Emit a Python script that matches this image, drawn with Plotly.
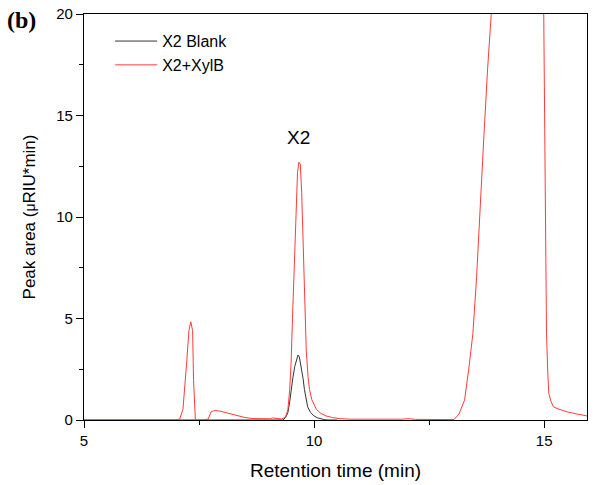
import plotly.graph_objects as go

# Red trace: X2 + XylB
t_red = [5.0, 6.5, 7.0, 7.08, 7.15, 7.23, 7.28, 7.32, 7.36, 7.38, 7.40, 7.42, 7.60, 7.70, 7.76, 7.84, 7.95, 8.1, 8.31, 8.5, 8.67,
         8.9, 9.05, 9.1, 9.18, 9.3, 9.38, 9.43, 9.47, 9.5, 9.53, 9.56, 9.6, 9.64, 9.67, 9.70, 9.73, 9.77, 9.80, 9.83, 9.87, 9.9, 9.95,
         10.05, 10.15, 10.26, 10.4, 10.55, 10.8, 11.2, 11.6, 11.9, 12.0, 12.04, 12.1, 12.2, 12.5, 12.9, 13.04, 13.15, 13.27,
         13.36, 13.45, 13.53, 13.61, 13.69, 13.77, 13.85, 14.0, 14.4, 14.8, 14.97, 14.99, 15.02, 15.05, 15.08, 15.1, 15.15,
         15.2, 15.3, 15.5, 15.7, 15.9, 16.0]
y_red = [0.0, 0.0, 0.0, 0.05, 0.52, 2.8, 4.4, 4.84, 4.4, 2.0, 0.6, 0.0, 0.0, 0.05, 0.4, 0.47, 0.44, 0.35, 0.2, 0.12, 0.07,
         0.05, 0.06, 0.1, 0.08, 0.05, 0.15, 0.5, 1.5, 2.8, 5.0, 7.2, 10.0, 12.2, 12.7, 12.6, 11.2, 7.5, 5.0, 3.4, 2.1, 1.5, 1.0,
         0.52, 0.32, 0.2, 0.12, 0.07, 0.04, 0.03, 0.03, 0.04, 0.06, 0.07, 0.06, 0.03, 0.02, 0.01, 0.02, 0.3, 0.98,
         2.5, 4.25, 7.0, 10.75, 14.0, 17.3, 20.0, 28.0, 40.0, 40.0, 24.0, 20.0, 10.0, 4.25, 2.2, 1.3, 0.9,
         0.65, 0.55, 0.4, 0.3, 0.2, 0.17]

# Black trace: X2 Blank
t_blk = [5.0, 9.0, 9.32, 9.38, 9.43, 9.47, 9.5, 9.54, 9.58, 9.62, 9.65, 9.68, 9.72, 9.76, 9.79, 9.83, 9.86, 9.92, 10.0,
         10.07, 10.14, 10.22, 10.3, 10.5]
y_blk = [0.0, 0.0, 0.0, 0.12, 0.36, 0.9, 1.5, 2.1, 2.64, 3.05, 3.2, 3.1, 2.6, 2.05, 1.5, 1.0, 0.65, 0.38, 0.2,
         0.11, 0.05, 0.02, 0.0, 0.0]

x_ticks = [5, 10, 15]
y_ticks = [0, 5, 10, 15, 20]

fig = go.Figure()
fig.add_trace(go.Scatter(x=t_blk, y=y_blk, mode="lines", name="X2 Blank",
                         line=dict(color="#333333", width=1)))
fig.add_trace(go.Scatter(x=t_red, y=y_red, mode="lines", name="X2+XylB",
                         line=dict(color="#ff3b3b", width=1)))

axis_common = dict(showline=True, linecolor="black", linewidth=1.3, mirror=True,
                   ticks="outside", ticklen=7, tickwidth=1.3, tickcolor="black",
                   showgrid=False, zeroline=False,
                   tickfont=dict(family="Arial, Liberation Sans", size=15, color="black"))

fig.update_xaxes(range=[5, 15.93], tickvals=x_ticks, ticktext=[str(v) for v in x_ticks],
                 minor=dict(dtick=2.5, tick0=5, ticklen=4, tickwidth=1.3, tickcolor="black", ticks="outside"),
                 title=dict(text="Retention time (min)", standoff=15,
                            font=dict(family="Arial, Liberation Sans", size=19, color="black")),
                 **axis_common)
fig.update_yaxes(range=[0, 20], tickvals=y_ticks, ticktext=[str(v) for v in y_ticks],
                 minor=dict(dtick=2.5, tick0=0, ticklen=4, tickwidth=1.3, tickcolor="black", ticks="outside"),
                 title=dict(text="Peak area (<span style='font-size:14px'>μ</span>RIU*min)", standoff=16,
                            font=dict(family="Arial, Liberation Sans", size=17, color="black")),
                 **axis_common)

fig.add_annotation(x=9.66, y=13.3, text="X2", showarrow=False, yanchor="bottom",
                   font=dict(family="Arial, Liberation Sans", size=19, color="black"))
fig.add_annotation(xref="paper", yref="paper", x=-0.158, y=0.985, text="<b>(b)</b>", showarrow=False,
                   xanchor="left", yanchor="middle",
                   font=dict(family="Times New Roman, Liberation Serif", size=24, color="black"))

fig.update_layout(width=593, height=485, margin=dict(l=84, r=5, t=11, b=65),
                  plot_bgcolor="white", paper_bgcolor="white", showlegend=True,
                  legend=dict(x=0.052, y=0.975, xanchor="left", yanchor="top", bgcolor="rgba(0,0,0,0)",
                              font=dict(family="Arial, Liberation Sans", size=16, color="black"),
                              itemwidth=42, tracegroupgap=0))
fig.write_html("out.html", config={"displayModeBar": False},
               post_script="document.body.style.margin='0';document.body.style.overflow='hidden';")
